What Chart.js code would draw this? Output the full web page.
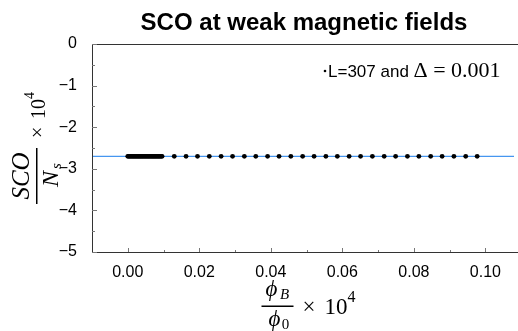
<!DOCTYPE html>
<html>
<head>
<meta charset="utf-8">
<script src="https://cdn.jsdelivr.net/npm/chart.js@4/dist/chart.umd.min.js"></script>
<style>
  html, body { margin: 0; padding: 0; background: #fff; }
  #wrap { width: 518px; height: 331px; }
</style>
</head>
<body>
<div id="wrap"><canvas id="myChart"></canvas></div>
<script>
// flux values (phi_B / phi_0, x 10^4)
const denseFlux = [0, 0.0003, 0.0006, 0.0009, 0.0012, 0.0015, 0.0018, 0.0021, 0.0024, 0.0027,
  0.0030, 0.0033, 0.0036, 0.0039, 0.0042, 0.0045, 0.0048, 0.0051, 0.0054, 0.0057,
  0.0060, 0.0063, 0.0066, 0.0069, 0.0072, 0.0075, 0.0078, 0.0081, 0.0084, 0.0087,
  0.0090, 0.0093, 0.0096];
const sparseFlux = [0.0130, 0.0163, 0.0195, 0.0228, 0.0261, 0.0293, 0.0326, 0.0358, 0.0391,
  0.0423, 0.0456, 0.0489, 0.0521, 0.0554, 0.0586, 0.0619, 0.0651, 0.0684, 0.0717,
  0.0749, 0.0782, 0.0814, 0.0847, 0.0879, 0.0912, 0.0945, 0.0977];
const scoValue = -2.7;
const refLineX = [-0.01, 0.109];
const refLineY = [-2.7, -2.7];
const xTicks = [0, 0.02, 0.04, 0.06, 0.08, 0.10];
const xMinorTicks = [0.01, 0.03, 0.05, 0.07, 0.09];
const yTicks = [-5, -4, -3, -2, -1, 0];
const yMinorTicks = [-4.5, -3.5, -2.5, -1.5, -0.5];
const titleText = "SCO at weak magnetic fields";

const points = denseFlux.concat(sparseFlux).map((v) => ({ x: v, y: scoValue }));
const refLine = refLineX.map((v, i) => ({ x: v, y: refLineY[i] }));

const SANS = "'Liberation Sans', Arial, sans-serif";
const SERIF = "'Liberation Serif', 'DejaVu Serif', serif";

const decor = {
  id: "decor",
  afterDraw(chart) {
    const ctx = chart.ctx;
    const a = chart.chartArea;
    const xs = chart.scales.x;
    const ys = chart.scales.y;
    ctx.save();

    // frame
    ctx.strokeStyle = "#333";
    ctx.lineWidth = 1;
    ctx.beginPath();
    ctx.moveTo(518, a.top + 0.5);
    ctx.lineTo(a.left + 0.5, a.top + 0.5);
    ctx.lineTo(a.left + 0.5, a.bottom + 0.5);
    ctx.lineTo(518, a.bottom + 0.5);
    ctx.stroke();

    // inward ticks
    ctx.strokeStyle = "#777";
    ctx.beginPath();
    yTicks.forEach((v) => {
      const p = Math.round(ys.getPixelForValue(v)) + 0.5;
      ctx.moveTo(a.left, p); ctx.lineTo(a.left + 5, p);
    });
    yMinorTicks.forEach((v) => {
      const p = Math.round(ys.getPixelForValue(v)) + 0.5;
      ctx.moveTo(a.left, p); ctx.lineTo(a.left + 3, p);
    });
    xTicks.forEach((v) => {
      const p = Math.round(xs.getPixelForValue(v)) + 0.5;
      ctx.moveTo(p, a.bottom); ctx.lineTo(p, a.bottom - 4);
    });
    xMinorTicks.forEach((v) => {
      const p = Math.round(xs.getPixelForValue(v)) + 0.5;
      ctx.moveTo(p, a.bottom); ctx.lineTo(p, a.bottom - 2);
    });
    ctx.stroke();

    ctx.fillStyle = "#000";

    // title
    ctx.font = "bold 24px " + SANS;
    ctx.textAlign = "center";
    ctx.textBaseline = "alphabetic";
    ctx.fillText(titleText, 304, 30);

    // legend: marker + text
    ctx.beginPath();
    ctx.arc(325, 71, 1.3, 0, Math.PI * 2);
    ctx.fill();
    ctx.textAlign = "left";
    ctx.font = "17px " + SANS;
    ctx.fillText("L=307 and ", 328, 77);
    let lx = 328 + ctx.measureText("L=307 and ").width;
    ctx.font = "22px " + SERIF;
    ctx.fillText("\u0394 = 0.001", lx, 77);

    // y axis title (rotated fraction)
    ctx.save();
    ctx.translate(37, 176);
    ctx.rotate(-Math.PI / 2);
    ctx.textAlign = "center";
    ctx.font = "italic 25px " + SERIF;
    ctx.fillText("SCO", 0, -8);
    ctx.fillRect(-28, -1, 56, 1.5);
    ctx.font = "italic 24px " + SERIF;
    ctx.fillText("N", -3, 21);
    ctx.font = "italic 15px " + SERIF;
    ctx.fillText("s", 10, 24);
    ctx.textAlign = "left";
    ctx.font = "20px " + SERIF;
    ctx.fillText("\u00d7", 38, 7);
    ctx.fillText("10", 57, 8);
    ctx.font = "14px " + SERIF;
    ctx.fillText("4", 77, -3);
    ctx.restore();

    // x axis title (fraction)
    ctx.save();
    ctx.translate(277.5, 306.5);
    ctx.textAlign = "center";
    ctx.font = "italic 23px " + SERIF;
    ctx.fillText("\u03d5", -6, -11);
    ctx.fillText("\u03d5", -3, 19);
    ctx.font = "italic 15px " + SERIF;
    ctx.fillText("B", 7, -8);
    ctx.font = "15px " + SERIF;
    ctx.fillText("0", 8, 22);
    ctx.fillRect(-16, -1, 32, 1.5);
    ctx.textAlign = "left";
    ctx.font = "23px " + SERIF;
    ctx.fillText("\u00d7", 25, 7);
    ctx.fillText("10", 47, 7);
    ctx.font = "16px " + SERIF;
    ctx.fillText("4", 70, -5);
    ctx.restore();

    ctx.restore();
  }
};

const config = {
  type: "scatter",
  data: {
    datasets: [
      {
        label: "line",
        data: refLine,
        showLine: true,
        borderColor: "rgb(70, 150, 240)",
        borderWidth: 1.2,
        pointRadius: 0,
        order: 2,
      },
      {
        label: "L=307",
        data: points,
        backgroundColor: "#000",
        borderColor: "#000",
        pointRadius: 2.4,
        pointBorderWidth: 0,
        order: 1,
      },
    ],
  },
  options: {
    responsive: false,
    animation: false,
    maintainAspectRatio: false,
    layout: { padding: { top: 44, right: 0, left: 0, bottom: 0 } },
    plugins: { legend: { display: false }, tooltip: { enabled: false }, title: { display: false } },
    scales: {
      x: {
        type: "linear",
        min: -0.01,
        max: 0.108,
        grid: { display: false },
        border: { display: false },
        afterBuildTicks: (s) => { s.ticks = xTicks.map((v) => ({ value: v })); },
        afterFit: (s) => { s.height = 79; },
        ticks: {
          color: "#000",
          padding: 3,
          maxRotation: 0,
          font: { family: SANS, size: 16 },
          callback: (v) => Number(v).toFixed(2),
        },
      },
      y: {
        type: "linear",
        min: -5,
        max: 0,
        grid: { display: false },
        border: { display: false },
        afterBuildTicks: (s) => { s.ticks = yTicks.map((v) => ({ value: v })); },
        afterFit: (s) => { s.width = 92; },
        ticks: {
          color: "#000",
          padding: 7,
          font: { family: SANS, size: 16 },
          callback: (v) => (v < 0 ? "\u2212" + Math.abs(v) : String(v)),
        },
      },
    },
  },
  plugins: [decor],
};

const canvas = document.getElementById("myChart");
canvas.width = 518;
canvas.height = 331;
const myChart = new Chart(canvas, config);
</script>
</body>
</html>
